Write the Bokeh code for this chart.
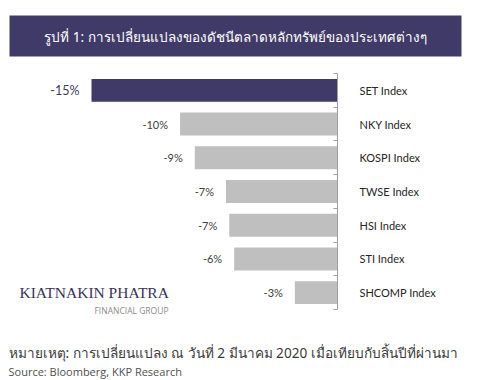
from bokeh.plotting import figure
from bokeh.models import Range1d, FixedTicker, Label, BoxAnnotation, ColumnDataSource
from bokeh.core.properties import value
from bokeh.embed import file_html
from bokeh.resources import INLINE

categories = ["SET Index", "NKY Index", "KOSPI Index", "TWSE Index", "HSI Index", "STI Index", "SHCOMP Index"]
changes = [-15.0, -9.6, -8.7, -6.8, -6.6, -6.3, -2.6]
title_text = "รูปที่ 1: การเปลี่ยนแปลงของดัชนีตลาดหลักทรัพย์ของประเทศต่างๆ"
note_text = "หมายเหตุ: การเปลี่ยนแปลง ณ วันที่ 2 มีนาคม 2020 เมื่อเทียบกับสิ้นปีที่ผ่านมา"
source_text = "Source: Bloomberg, KKP Research"

PURPLE = "#403a68"
GREY = "#bfbfbf"
W = 470


def blank(height, y0):
    f = figure(width=W, height=height, output_backend="svg", toolbar_location=None,
               x_range=Range1d(0, W), y_range=Range1d(y0 + height, y0),
               x_axis_location=None, y_axis_location=None,
               min_border=0, min_border_left=0, min_border_right=0, min_border_top=0, min_border_bottom=0)
    f.outline_line_color = None
    f.grid.visible = False
    return f


# ---- top banner ----
top = blank(65, 0)
top.add_layout(BoxAnnotation(left=9, right=461, top=15, bottom=56, fill_color=PURPLE, fill_alpha=1.0,
                             line_color=None))
top.add_layout(Label(x=235, y=36, text=title_text, text_color="white", text_font="Noto Sans",
                     text_font_size="13.5px", text_align="center", text_baseline="middle"))

# ---- chart ----
n = len(categories)
ypos = [i + 0.5 for i in range(n)]
labels = ["%d%%" % round(v) for v in changes]
colors = [PURPLE] + [GREY] * (n - 1)
lab_colors = ["#3d3d5c"] + ["#404040"] * (n - 1)
lab_sizes = ["12.5px"] + ["11px"] * (n - 1)
src = ColumnDataSource(dict(y=ypos, v=changes, c=colors, lab=labels, lc=lab_colors, ls=lab_sizes))

band = 236 / n          # px per category
pxu = 16.4              # px per percent
p = figure(width=W, height=255, output_backend="svg", toolbar_location=None,
           x_range=Range1d(-337 / pxu, 0), y_range=Range1d(n + 11 / band, -8 / band),
           x_axis_location=None, y_axis_location="right",
           min_border_left=0, min_border_right=W - 337, min_border_top=0, min_border_bottom=0)
p.outline_line_color = None
p.grid.visible = False

p.hbar(y="y", left=0, right="v", height=0.68, fill_color="c", line_color=None, source=src)
p.text(x="v", y="y", text="lab", text_color="lc", text_font_size="ls", x_offset=-12,
       text_align="right", text_baseline="middle", text_font=value("Lato"), source=src)

ax = p.yaxis[0]
ax.bounds = (0, n)
ax.ticker = FixedTicker(ticks=ypos, minor_ticks=list(range(n + 1)))
ax.major_label_overrides = {y: c for y, c in zip(ypos, categories)}
ax.major_tick_line_color = None
ax.minor_tick_line_color = "#a0a0a0"
ax.minor_tick_in = 4
ax.minor_tick_out = 0
ax.axis_line_color = "#a0a0a0"
ax.major_label_standoff = 16
ax.major_label_text_font = "Lato"
ax.major_label_text_font_size = "11px"
ax.major_label_text_color = "#262626"
ax.major_label_text_align = "left"

p.add_layout(Label(x=19, y=227, x_units="canvas", y_units="canvas", text="KIATNAKIN PHATRA",
                   text_color="#38335a", text_font="Liberation Serif", text_font_size="15.5px",
                   text_align="left", text_baseline="middle"))
p.add_layout(Label(x=168, y=245, x_units="canvas", y_units="canvas", text="FINANCIAL GROUP",
                   text_color="#8a8a8a", text_font="Open Sans", text_font_size="8.5px",
                   text_align="right", text_baseline="middle"))

# ---- notes ----
bottom = blank(60, 320)
bottom.add_layout(Label(x=8, y=352, text=note_text, text_color="#3a3a3a", text_font="Noto Sans",
                        text_font_size="13.6px", text_align="left", text_baseline="middle"))
bottom.add_layout(Label(x=8, y=371, text=source_text, text_color="#505050", text_font="Open Sans",
                        text_font_size="11px", text_align="left", text_baseline="middle"))

open("out.html", "w").write(file_html([top, p, bottom], INLINE))
